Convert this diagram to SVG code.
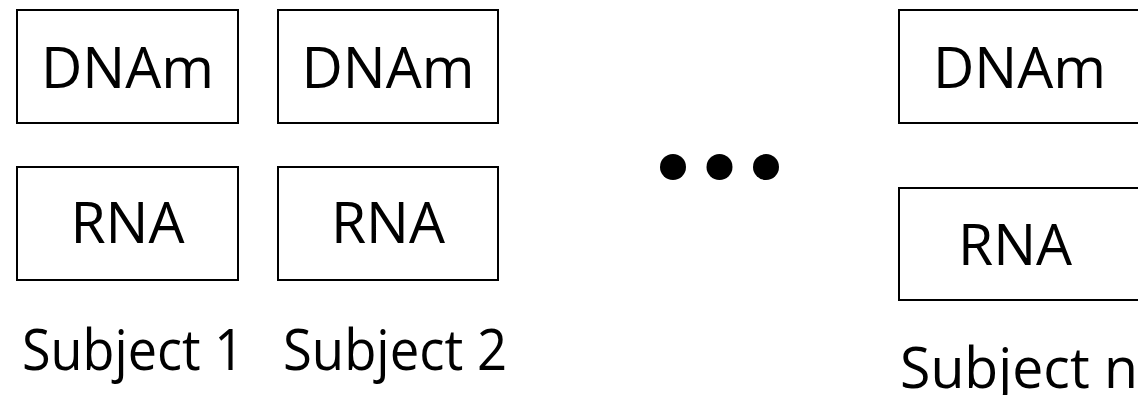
<svg xmlns="http://www.w3.org/2000/svg" width="1138" height="395" viewBox="0 0 1138 395">
<style>
.box{fill:#fff;stroke:#000;stroke-width:2}
.t{font-family:"Open Sans","Noto Sans",sans-serif;font-size:57px;fill:#000}
.dot{fill:#000}
</style>
<rect width="1138" height="395" fill="#fff"/>
<g id="s1-dnam"><rect class="box" x="17" y="10" width="221" height="113"/><text class="t" x="127.5" y="88" text-anchor="middle">DNAm</text></g>
<g id="s2-dnam"><rect class="box" x="278" y="10" width="220" height="113"/><text class="t" x="388" y="88" text-anchor="middle">DNAm</text></g>
<g id="s1-rna"><rect class="box" x="17" y="167" width="221" height="113"/><text class="t" x="127.5" y="243" text-anchor="middle">RNA</text></g>
<g id="s2-rna"><rect class="box" x="278" y="167" width="220" height="113"/><text class="t" x="388" y="243" text-anchor="middle">RNA</text></g>
<g id="sn-dnam"><rect class="box" x="899" y="10" width="260" height="113"/><text class="t" x="933" y="88">DNAm</text></g>
<g id="sn-rna"><rect class="box" x="899" y="188" width="260" height="112"/><text class="t" x="958" y="265">RNA</text></g>
<g id="labels">
<text class="t" x="22" y="370" textLength="222" lengthAdjust="spacingAndGlyphs">Subject 1</text>
<text class="t" x="283" y="370" textLength="224" lengthAdjust="spacingAndGlyphs">Subject 2</text>
<text class="t" x="900" y="388" textLength="238" lengthAdjust="spacingAndGlyphs">Subject n</text>
</g>
<g id="ellipsis"><circle class="dot" cx="673" cy="167" r="13"/><circle class="dot" cx="719.5" cy="167" r="13"/><circle class="dot" cx="766" cy="167" r="13"/></g>
<g id="connectors"/>
</svg>
